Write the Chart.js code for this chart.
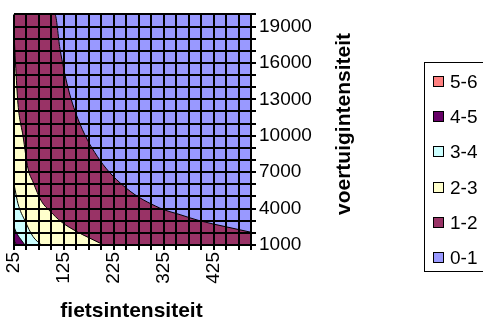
<!DOCTYPE html>
<html><head><meta charset="utf-8">
<script src="https://cdn.jsdelivr.net/npm/chart.js@4.4.0/dist/chart.umd.min.js"></script>
<style>html,body{margin:0;padding:0;background:#fff;overflow:hidden}#wrap{position:relative;width:483px;height:322px}</style>
</head><body><div id="wrap"><canvas id="c" width="483" height="322"></canvas></div>
<script>
// Axis tick labels
const xTickLabels = [25, 125, 225, 325, 425];
const yTickLabels = [1000, 4000, 7000, 10000, 13000, 16000, 19000];
// Bands (top of legend first)
const bandLabels = ['5-6', '4-5', '3-4', '2-3', '1-2', '0-1'];
const bandColors = ['#FF8080', '#660066', '#CCFFFF', '#FFFFCC', '#993366', '#9999FF'];
// Lower boundary of each band: [fietsintensiteit, voertuigintensiteit]
const edge5 = [[25, 1400], [28, 1150], [31, 1000]];
const edge4 = [[25, 2500], [30, 2000], [38, 1500], [47, 1000]];
const edge3 = [[25, 6000], [27, 5600], [33, 4400], [47, 3000], [63, 1700], [80, 1000]];
const edge2 = [[25, 18500], [28, 16000], [33, 12600], [43, 10000], [53, 7300], [63, 6200], [80, 4600], [97, 3800], [120, 2900], [151, 2100], [175, 1600], [205, 1000]];
const edge1 = [[25, 20000], [107, 20000], [117, 17200], [133, 14000], [157, 11000], [197, 8000], [251, 5650], [317, 4050], [358, 3500], [397, 3000], [450, 2500], [500, 2050]];
const edge0 = [[25, 20000], [500, 20000]];
const edges = [edge5, edge4, edge3, edge2, edge1, edge0];
const xTitle = 'fietsintensiteit';
const yTitle = 'voertuigintensiteit';

const FONT = '"Liberation Sans", Arial, sans-serif';

const datasets = edges.map((e, i) => ({
  label: bandLabels[i],
  data: e.map(p => ({x: p[0], y: p[1]})),
  backgroundColor: bandColors[i],
  borderColor: '#000',
  borderWidth: 1,
  pointRadius: 0,
  fill: 'start',
  cubicInterpolationMode: 'monotone'
}));

const extras = {
  id: 'extras',
  afterDraw(chart) {
    const ctx = chart.ctx;
    const ca = chart.chartArea;
    // axis titles
    ctx.save();
    ctx.font = 'bold 21px ' + FONT;
    ctx.fillStyle = '#000';
    ctx.textAlign = 'center';
    ctx.textBaseline = 'alphabetic';
    ctx.fillText(xTitle, (ca.left + ca.right) / 2 - 1, 317);
    ctx.translate(350, 124);
    ctx.rotate(-Math.PI / 2);
    ctx.fillText(yTitle, 0, 0);
    ctx.restore();
    // legend
    ctx.save();
    ctx.strokeStyle = '#000';
    ctx.lineWidth = 1;
    ctx.strokeRect(424.5, 62.5, 100, 209);
    ctx.font = '19px ' + FONT;
    ctx.textBaseline = 'middle';
    chart.data.datasets.forEach((ds, i) => {
      const y = Math.round(82 + i * 35.2);
      ctx.fillStyle = ds.backgroundColor;
      ctx.fillRect(433.5, y - 5.5, 10, 10);
      ctx.strokeRect(433.5, y - 5.5, 10, 10);
      ctx.fillStyle = '#000';
      ctx.fillText(ds.label, 450, y + 1);
    });
    ctx.restore();
  }
};

new Chart(document.getElementById('c'), {
  type: 'line',
  data: {datasets},
  options: {
    responsive: false,
    animation: false,
    layout: {padding: {left: 14, top: 8, right: 132, bottom: 0}},
    plugins: {legend: {display: false}, tooltip: {enabled: false}},
    scales: {
      x: {
        type: 'linear', min: 25, max: 500,
        afterFit(s) { s.height = 77; },
        grid: {color: '#000', lineWidth: 2, tickLength: 5, drawTicks: true, tickColor: '#000', z: 1},
        border: {color: '#000', width: 2, z: 1},
        ticks: {
          stepSize: 25, autoSkip: false, maxRotation: 90, minRotation: 90, padding: 2,
          color: '#000', font: {family: FONT, size: 19},
          callback: v => xTickLabels.includes(v) ? String(v) : ''
        }
      },
      y: {
        type: 'linear', position: 'right', min: 1000, max: 20000,
        afterFit(s) { s.width = 100; },
        grid: {color: '#000', lineWidth: 2, tickLength: 5, drawTicks: true, tickColor: '#000', z: 1},
        border: {color: '#000', width: 2, z: 1},
        ticks: {
          stepSize: 1000, autoSkip: false, padding: 3,
          color: '#000', font: {family: FONT, size: 19},
          callback: v => yTickLabels.includes(v) ? String(v) : ''
        }
      }
    }
  },
  plugins: [extras]
});
</script></body></html>
